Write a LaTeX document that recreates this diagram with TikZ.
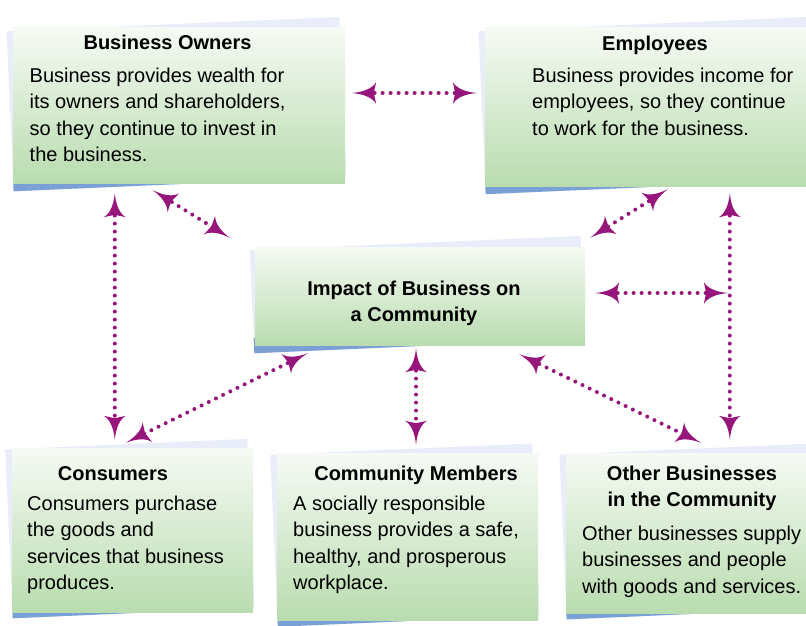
\documentclass[tikz,border=0pt]{standalone}
\usepackage{fontspec}
\setmainfont{Liberation Sans}
\usetikzlibrary{calc,positioning,fit,arrows.meta}

\definecolor{linkpurple}{RGB}{150,22,124}
\definecolor{cardtop}{RGB}{246,250,244}
\definecolor{cardbottom}{RGB}{185,220,175}
\definecolor{sheetback}{RGB}{233,237,249}
\definecolor{sheetblue}{RGB}{122,160,214}

% flared double-ended tip with hollow sides
\pgfdeclarearrow{
	name = Flare,
	parameters = {\the\pgfarrowlength,\the\pgfarrowwidth},
	setup code = {
		\pgfarrowssettipend{0pt}
		\pgfarrowssetlineend{-.6\pgfarrowlength}
		\pgfarrowssetvisualbackend{-\pgfarrowlength}
		\pgfarrowssetbackend{-\pgfarrowlength}
		\pgfarrowssavethe\pgfarrowlength
		\pgfarrowssavethe\pgfarrowwidth
	},
	drawing code = {
		\pgfpathmoveto{\pgfpointorigin}
		\pgfpathcurveto{\pgfpoint{-.5\pgfarrowlength}{.05\pgfarrowwidth}}
			{\pgfpoint{-.85\pgfarrowlength}{.22\pgfarrowwidth}}
			{\pgfpoint{-\pgfarrowlength}{.5\pgfarrowwidth}}
		\pgfpathlineto{\pgfpoint{-.9\pgfarrowlength}{0pt}}
		\pgfpathlineto{\pgfpoint{-\pgfarrowlength}{-.5\pgfarrowwidth}}
		\pgfpathcurveto{\pgfpoint{-.85\pgfarrowlength}{-.22\pgfarrowwidth}}
			{\pgfpoint{-.5\pgfarrowlength}{-.05\pgfarrowwidth}}
			{\pgfpointorigin}
		\pgfpathclose
		\pgfusepathqfill
	},
	defaults = {length = 24pt, width = 22pt}
}

\tikzset{
	card/.style={
		rectangle,
		inner sep=0pt,
		top color=cardtop,
		bottom color=cardbottom},
	backsheet/.style={fill=sheetback},
	bluestrip/.style={fill=sheetblue},
	heading/.style={
		font=\bfseries\fontsize{20}{26.5}\selectfont,
		inner sep=0pt,
		anchor=base},
	blurb/.style={
		font=\fontsize{20}{26.5}\selectfont,
		align=left,
		inner sep=0pt,
		anchor=north west},
	link/.style={
		arrows={Flare-Flare},
		draw=linkpurple,
		line width=4pt,
		line cap=round,
		dash pattern=on 0pt off 8pt},
}

% card: tilted sheet behind, blue edge, green face (name, left, top, right, bottom)
\newcommand*\cardsheet[5]{
	\begin{scope}[rotate around={2.5:({(#2+#4)/2},{(#3+#5)/2})}]
		\fill[backsheet] (#2-3,#3-4) rectangle (#4-2,#5+1);
		\fill[bluestrip] (#2-3,#5-14) rectangle ({(#2+#4)/2+30},#5+1);
	\end{scope}
	\node[card, fit={(#2,#3) (#4,#5)}] (#1) {};
}

\begin{document}
\begin{tikzpicture}[x=1pt,y=-1pt]
\path[use as bounding box, fill=white] (0,0) rectangle (806,626);

% the six cards
\cardsheet{owners}{13}{28}{345}{183}
\cardsheet{employees}{485}{28}{812}{186}
\cardsheet{impact}{255}{247}{585}{345}
\cardsheet{consumers}{12}{448}{253}{612}
\cardsheet{members}{277}{453}{538}{620}
\cardsheet{others}{566}{453}{812}{613}

% headings
\node[heading] (ownersT) at (167.5,50) {Business Owners};
\node[heading] (employeesT) at (655,51) {Employees};
\node[heading, anchor=north, align=center] (impactT) at (414,280.5) {Impact of Business on\\a Community};
\node[heading] (consumersT) at (113,480) {Consumers};
\node[heading] (membersT) at (416,480) {Community Members};
\node[heading, anchor=north, align=center] (othersT) at (692,465.5) {Other Businesses\\in the Community};

% card texts
\node[blurb] (ownersB) at (29.5,67.5) {Business provides wealth for\\its owners and shareholders,\\so they continue to invest in\\the business.};
\node[blurb] (employeesB) at (532,67.5) {Business provides income for\\employees, so they continue\\to work for the business.};
\node[blurb] (consumersB) at (27,495.5) {Consumers purchase\\the goods and\\services that business\\produces.};
\node[blurb] (membersB) at (293,495.5) {A socially responsible\\business provides a safe,\\healthy, and prosperous\\workplace.};
\node[blurb] (othersB) at (582,525.5) {Other businesses supply\\businesses and people\\with goods and services.};

% dotted links
\draw[link] ($(owners.east)+(7,-12.5)$) -- ($(employees.west)+(-8,-14)$);
\draw[link] ($(owners.south west)+(102,10)$) -- ($(consumers.north west)+(103,-8)$);
\draw[link] ($(owners.south west)+(140,7)$) -- ($(impact.north west)+(-25,-9)$);
\draw[link] ($(impact.south west)+(53,8)$) -- ($(consumers.north west)+(114,-5)$);
\draw[link] ($(impact.south)+(-4,3)$) -- ($(members.north)+(8.5,-8)$);
\draw[link] ($(impact.south east)+(-66,9)$) -- ($(others.north)+(12,-10)$);
\draw[link] ($(employees.south west)+(183,3)$) -- ($(impact.north east)+(5,-9)$);
\draw[link] ($(employees.south west)+(245,7)$) coordinate (rise) -- ($(others.north west)+(164,-13)$);
\draw[link] ($(impact.east)+(10,-3)$) coordinate (reach) -- ($(reach -| rise)+(-2,0)$);
\end{tikzpicture}
\end{document}
